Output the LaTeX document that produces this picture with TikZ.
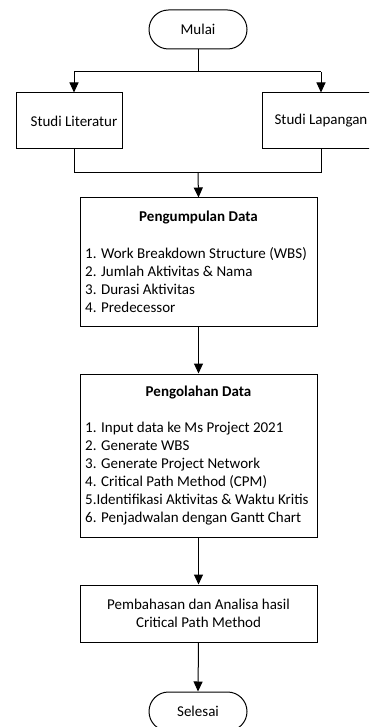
\documentclass[tikz,border=0pt]{standalone}
\usepackage{fontspec}
\setmainfont{Carlito}
\usetikzlibrary{arrows.meta}
\begin{document}
\begin{tikzpicture}[x=1pt,y=-1pt,
  every node/.style={font=\fontsize{15}{18}\selectfont},
  box/.style={draw, line width=1pt, rectangle, inner sep=0pt},
  term/.style={draw, line width=1pt, rectangle, rounded corners=19.5pt, minimum width=98pt, minimum height=39pt, inner sep=0pt},
  ln/.style={line width=1pt},
  arr/.style={line width=1pt, -{Triangle[length=10pt,width=9pt]}},
  txt/.style={inner sep=0pt}]
\useasboundingbox (0,0) rectangle (369,727);
\clip (0,0) rectangle (369,727);
\node[term] (mulai) at (198,29.5) {Mulai};
\node[box, minimum width=106pt, minimum height=56pt] (lit) at (69,121) {\hspace*{10pt}Studi Literatur};
\node[box, minimum width=118pt, minimum height=56pt] (lap) at (321,121) {Studi Lapangan};
\coordinate (split) at (198,72);
\coordinate (sl) at (74,72);
\coordinate (sr) at (321,72);
\draw[ln] (mulai.south) -- (split);
\draw[ln] (sl) -- (sr);
\draw[arr] (sl) -- (sl |- lit.north);
\draw[arr] (sr) -- (lap.north);
\coordinate (jl) at (74,173);
\coordinate (jr) at (321,173);
\coordinate (jm) at (198,173);
\draw[ln] (jl |- lit.south) -- (jl) -- (jr) -- (lap.south);
% Pengumpulan
\node[box, minimum width=237pt, minimum height=128pt] (kump) at (198.5,262) {};
\draw[arr] (jm) -- (kump.north);
\node[txt] (kumpT) at (198.5,218) {\textbf{Pengumpulan Data}};
\node[txt, anchor=west, align=left] (kumpL) at (85,280) {1. Work Breakdown Structure (WBS)\\2. Jumlah Aktivitas \& Nama\\3. Durasi Aktivitas\\4. Predecessor};
% Pengolahan
\node[box, minimum width=237pt, minimum height=163pt] (olah) at (198.5,455.5) {};
\draw[arr] (kump.south) -- (olah.north);
\node[txt] (olahT) at (198.5,393) {\textbf{Pengolahan Data}};
\node[txt, anchor=west, align=left] (olahL) at (85,473.5) {1. Input data ke Ms Project 2021\\2. Generate WBS\\3. Generate Project Network\\4. Critical Path Method (CPM)\\5.Identifikasi Aktivitas \& Waktu Kritis\\6. Penjadwalan dengan Gantt Chart};
% Pembahasan
\node[box, minimum width=237pt, minimum height=57pt, align=center] (bahas) at (198.5,613.5) {Pembahasan dan Analisa hasil\\Critical Path Method};
\draw[arr] (olah.south) -- (bahas.north);
\node[term] (selesai) at (198,711.5) {Selesai};
\draw[arr] (bahas.south) -- (selesai.north);
\end{tikzpicture}
\end{document}
